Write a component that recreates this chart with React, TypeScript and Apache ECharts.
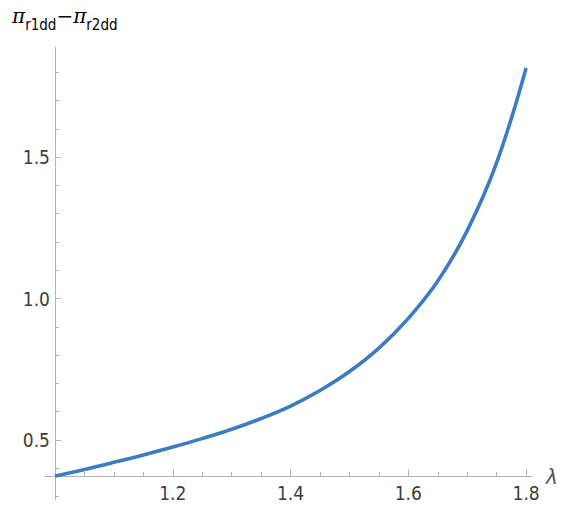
import React, { useEffect, useRef } from "react";
import * as echarts from "echarts";

const lambdaValues = [1.0, 1.05, 1.1, 1.15, 1.2, 1.25, 1.3, 1.35, 1.4, 1.45, 1.5, 1.55, 1.6, 1.65, 1.7, 1.75, 1.8];
const diffValues = [0.373, 0.396, 0.421, 0.447, 0.475, 0.505, 0.538, 0.576, 0.62, 0.675, 0.742, 0.825, 0.93, 1.062, 1.24, 1.48, 1.815];

const xMajorTicks = [1.2, 1.4, 1.6, 1.8];
const xMinorTicks = [1.05, 1.1, 1.15, 1.25, 1.3, 1.35, 1.45, 1.5, 1.55, 1.65, 1.7, 1.75];
const yMajorTicks = [0.5, 1.0, 1.5];
const yMinorTicks = [0.3, 0.4, 0.6, 0.7, 0.8, 0.9, 1.1, 1.2, 1.3, 1.4, 1.6, 1.7, 1.8];

const X_MIN = 0.983;
const X_MAX = 1.81;
const Y_MIN = 0.288;
const Y_MAX = 1.889;

const AXIS_COLOR = "#b4b4b4";
const LABEL_COLOR = "#3c3c3c";
const FONT = "'Liberation Sans Narrow', 'DejaVu Sans Condensed', 'Liberation Sans', Arial, sans-serif";

export default function App() {
  const ref = useRef<HTMLDivElement>(null);

  useEffect(() => {
    document.body.style.margin = "0";
    if (!ref.current) return;
    const chart = echarts.init(ref.current, undefined, { renderer: "svg" });

    const data = lambdaValues.map((x, i) => [x, diffValues[i]]);

    const baseX = {
      type: "value" as const,
      min: X_MIN,
      max: X_MAX,
      position: "bottom" as const,
      offset: -24,
      splitLine: { show: false },
    };
    const baseY = {
      type: "value" as const,
      min: Y_MIN,
      max: Y_MAX,
      position: "left" as const,
      offset: -10,
      splitLine: { show: false },
    };

    chart.setOption({
      animation: false,
      grid: { left: 45, right: 39, top: 47, bottom: 14, containLabel: false, outerBoundsMode: "none" },
      xAxis: [
        {
          ...baseX,
          name: "λ",
          nameLocation: "end",
          nameGap: 14,
          nameTextStyle: { fontSize: 22, fontStyle: "italic", color: "#555", fontFamily: FONT },
          axisLine: { show: true, lineStyle: { color: AXIS_COLOR, width: 1 } },
          axisTick: { show: true, inside: true, length: 7, customValues: xMajorTicks, lineStyle: { color: AXIS_COLOR } },
          axisLabel: {
            show: true,
            customValues: xMajorTicks,
            margin: 7,
            fontSize: 19,
            color: LABEL_COLOR,
            fontFamily: FONT,
            formatter: (v: number) => v.toFixed(1),
          },
        },
        {
          ...baseX,
          axisLine: { show: false },
          axisTick: { show: true, inside: true, length: 4, customValues: xMinorTicks, lineStyle: { color: AXIS_COLOR } },
          axisLabel: { show: false },
        },
      ],
      yAxis: [
        {
          ...baseY,
          axisLine: { show: true, lineStyle: { color: AXIS_COLOR, width: 1 } },
          axisTick: { show: true, inside: true, length: 6, customValues: yMajorTicks, lineStyle: { color: AXIS_COLOR } },
          axisLabel: {
            show: true,
            customValues: yMajorTicks,
            margin: 5,
            fontSize: 19,
            color: LABEL_COLOR,
            fontFamily: FONT,
            formatter: (v: number) => v.toFixed(1),
          },
        },
        {
          ...baseY,
          axisLine: { show: false },
          axisTick: { show: true, inside: true, length: 4, customValues: yMinorTicks, lineStyle: { color: AXIS_COLOR } },
          axisLabel: { show: false },
        },
      ],
      graphic: [
        {
          type: "text",
          left: 12,
          top: 6,
          style: {
            text: "{p|π}{s|r1dd}{p|−π}{s|r2dd}",
            rich: {
              p: { fontSize: 20, fontFamily: "'DejaVu Serif', serif", fontStyle: "italic", color: "#5a5a5a", verticalAlign: "top", lineHeight: 26 },
              s: { fontSize: 15, fontFamily: FONT, color: "#5a5a5a", verticalAlign: "bottom", lineHeight: 26, padding: [8, 0, 0, 0] },
            },
          },
        },
      ],
      series: [
        {
          type: "line",
          xAxisIndex: 0,
          yAxisIndex: 0,
          data,
          smooth: 0.4,
          showSymbol: false,
          symbol: "none",
          lineStyle: { color: "#3d7cc0", width: 3.6 },
        },
      ],
    });

    return () => chart.dispose();
  }, []);

  return <div ref={ref} style={{ width: 571, height: 514 }} />;
}
